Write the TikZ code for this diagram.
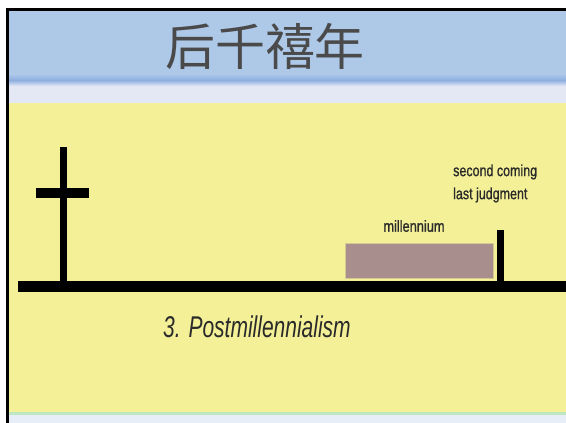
\documentclass[tikz,border=0pt]{standalone}
\usepackage{fontspec}
\setmainfont{Liberation Sans}
\newfontfamily\cjk{Noto Sans CJK SC}
\newfontfamily\lblfont[FakeBold=1.2]{Liberation Sans}
\definecolor{skyblue}{HTML}{AEC8E8}
\definecolor{bandblue}{HTML}{8DAEDF}
\definecolor{paleblue}{HTML}{E3E8F4}
\definecolor{padyellow}{HTML}{F3F097}
\definecolor{mintline}{HTML}{BEE8C4}
\definecolor{bottomblue}{HTML}{E7EEF8}
\definecolor{mauve}{HTML}{A88F8E}
\definecolor{titlegray}{HTML}{4A4A4A}
\definecolor{textdark}{HTML}{2A2A2A}
\tikzset{
  barline/.style={line width=#1, draw=black},
  smalllabel/.style={inner sep=0pt, text=textdark, font=\lblfont\fontsize{16}{18}\selectfont},
}
\begin{document}
\begin{tikzpicture}[x=1pt, y=-1pt]
\useasboundingbox (0,0) rectangle (566,423);
\fill[white] (0,0) rectangle (566,423);
% backgrounds
\fill[skyblue] (9,11) rectangle (566,80);
\shade[top color=skyblue, bottom color=bandblue] (9,74) rectangle (566,80);
\shade[top color=bandblue, bottom color=paleblue] (9,80) rectangle (566,86);
\fill[paleblue] (9,86) rectangle (566,103);
\fill[padyellow] (9,103) rectangle (566,412);
\fill[mintline] (9,412) rectangle (566,415);
\fill[bottomblue] (9,415) rectangle (566,423);
% frame
\draw[line width=3pt] (7.5,423) -- (7.5,9.5) -- (566,9.5);
% title
\node[inner sep=0pt, text=titlegray, font=\cjk\fontsize{50}{52}\selectfont] (title) at (265,46) {后千禧年};
% ground line
\draw[barline=11pt] (18,286) -- (566,286);
% cross
\draw[barline=7pt] (63.5,147) -- (63.5,286);
\draw[barline=10pt] (36,193) -- (89,193);
% millennium box
\fill[mauve, draw=padyellow!60!mauve, line width=0.6pt] (345,243) rectangle (493,278);
% second coming bar
\draw[barline=7pt] (500,230) -- (500,286);
% labels
\node[smalllabel] (mill) at (414,226) {\scalebox{0.8}[1]{millennium}};
\node[smalllabel, anchor=west] (second) at (453,172) {\scalebox{0.78}[1]{second coming}};
\node[smalllabel, anchor=west] (last) at (453,195) {\scalebox{0.78}[1]{last judgment}};
\node[inner sep=0pt, text=textdark, font=\itshape\fontsize{30}{32}\selectfont] (post) at (257,327) {\scalebox{0.7}[1]{3. Postmillennialism}};
\end{tikzpicture}
\end{document}
